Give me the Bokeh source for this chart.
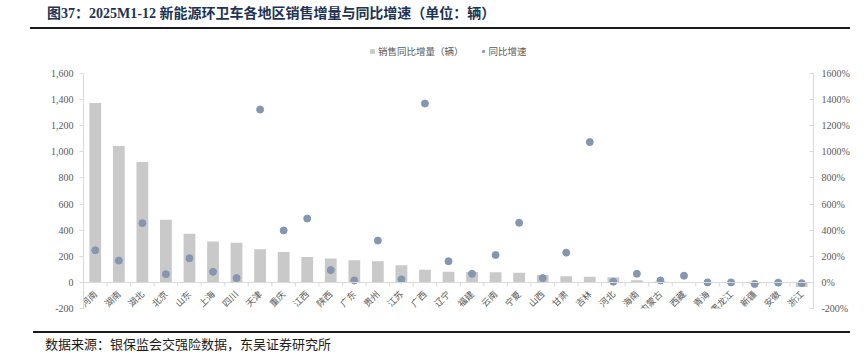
import math
from bokeh.plotting import figure
from bokeh.layouts import column
from bokeh.models import (ColumnDataSource, Range1d, LinearAxis, NumeralTickFormatter,
                          PrintfTickFormatter, FixedTicker, Legend, LegendItem, Div,
                          FactorRange)
from bokeh.transform import dodge
from bokeh.embed import file_html
from bokeh.resources import INLINE

categories = ["河南", "湖南", "湖北", "北京", "山东", "上海", "四川", "天津", "重庆", "江西",
              "陕西", "广东", "贵州", "江苏", "广西", "辽宁", "福建", "云南", "宁夏", "山西",
              "甘肃", "吉林", "河北", "海南", "内蒙古", "西藏", "青海", "黑龙江", "新疆", "安徽", "浙江"]
increase = [1374, 1045, 923, 479, 373, 314, 304, 253, 233, 195,
            183, 170, 162, 132, 96, 81, 80, 78, 73, 56,
            48, 43, 40, 17, 6, 3, 2, 1, -10, -6, -35]
growth = [246, 167, 454, 63, 185, 81, 33, 1324, 398, 489,
          94, 15, 320, 23, 1370, 162, 66, 210, 457, 33,
          228, 1075, 5, 66, 15, 51, 0, 0, -12, -2, -6]
left_ticks = [-200, 0, 200, 400, 600, 800, 1000, 1200, 1400, 1600]
right_ticks = [-200, 0, 200, 400, 600, 800, 1000, 1200, 1400, 1600]

title_text = "图37：2025M1-12 新能源环卫车各地区销售增量与同比增速（单位：辆）"
source_text = "数据来源：银保监会交强险数据，东吴证券研究所"
legend_labels = ["销售同比增量（辆）", "同比增速"]

BAR = "#c9c9c9"
DOT = "#8496b0"
AXIS = "#d9d9d9"
LABEL = "#595959"
SERIF = "Liberation Serif"
CJK = "Noto Sans CJK SC"

src = ColumnDataSource(dict(cat=categories, inc=increase, gr=growth,
                            zero=[0] * len(categories)))

# frame extends above the top tick so the legend can sit inside it
p = figure(width=867, height=302, x_range=FactorRange(*categories),
           y_range=Range1d(-200, 1853), output_backend="svg", toolbar_location=None,
           min_border_left=83, min_border_right=54, min_border_top=10, min_border_bottom=24)
p.extra_y_ranges = {"pct": Range1d(-200, 1853)}
p.grid.visible = False
p.outline_line_color = None
p.background_fill_color = "white"
p.border_fill_color = "white"

bars = p.vbar(x="cat", top="inc", bottom=0, width=0.5, source=src,
              fill_color=BAR, line_color=None)
dots = p.scatter(x="cat", y="gr", source=src, y_range_name="pct", marker="circle",
                 size=7, fill_color=DOT, line_color=DOT)

# small tick marks between categories, below the zero line
TICK_LEN = 30  # in value units (~4px)
src.data["tick_end"] = [-TICK_LEN] * len(categories)
p.segment(x0=dodge("cat", -0.5, range=p.x_range), y0="zero",
          x1=dodge("cat", -0.5, range=p.x_range), y1="tick_end",
          source=src, line_color=AXIS, line_width=1)

# left axis
ya = p.yaxis[0]
ya.ticker = FixedTicker(ticks=left_ticks)
ya.bounds = (left_ticks[0], left_ticks[-1])
ya.formatter = NumeralTickFormatter(format="0,0")
ya.axis_line_color = AXIS
ya.major_tick_line_color = AXIS
ya.major_tick_out = 4
ya.major_tick_in = 0
ya.minor_tick_line_color = None
ya.major_label_text_font = SERIF
ya.major_label_text_font_size = "10px"
ya.major_label_text_color = LABEL
ya.major_label_standoff = 6

# right axis
ra = LinearAxis(y_range_name="pct", ticker=FixedTicker(ticks=right_ticks),
                formatter=PrintfTickFormatter(format="%d%%"))
ra.bounds = (right_ticks[0], right_ticks[-1])
ra.axis_line_color = AXIS
ra.major_tick_line_color = AXIS
ra.major_tick_out = 0
ra.major_tick_in = 4
ra.minor_tick_line_color = None
ra.major_label_text_font = SERIF
ra.major_label_text_font_size = "10px"
ra.major_label_text_color = LABEL
ra.major_label_standoff = 8
p.add_layout(ra, "right")

# x axis drawn at zero
xa = p.xaxis[0]
xa.fixed_location = 0
xa.axis_line_color = AXIS
xa.major_tick_line_color = None
xa.minor_tick_line_color = None
xa.major_label_orientation = math.pi / 4
xa.major_label_text_font = CJK
xa.major_label_text_font_size = "9px"
xa.major_label_text_color = LABEL
xa.major_label_standoff = 4

legend = Legend(items=[LegendItem(label=legend_labels[0], renderers=[bars]),
                       LegendItem(label=legend_labels[1], renderers=[dots])],
                location=(286, 250), orientation="horizontal",
                glyph_width=6, glyph_height=6, label_height=12, label_standoff=3, spacing=16,
                padding=0, margin=0, border_line_color=None, background_fill_alpha=0,
                label_text_font=CJK, label_text_font_size="9.5px", label_text_color=LABEL)
p.add_layout(legend, "center")

title_div = Div(width=867, height=30, margin=0, text=(
    '<div style="margin-left:30px;width:820px;height:29px;box-sizing:border-box;'
    'border-bottom:2px solid #1a1a1a;padding-left:17px;line-height:27px;white-space:nowrap;'
    "font-family:'Liberation Serif','Noto Sans CJK SC';font-weight:bold;font-size:14px;"
    'color:#203354;">' + title_text + '</div>'))

footer_div = Div(width=867, height=23, margin=0, text=(
    '<div style="margin-top:-1px;margin-left:33px;width:817px;height:23px;box-sizing:border-box;'
    'border-top:2px solid #1a1a1a;padding-left:12px;line-height:21px;white-space:nowrap;'
    "font-family:'Noto Sans CJK SC';font-size:13px;color:#1a1a1a;\">" + source_text + '</div>'))

layout = column(title_div, p, footer_div, spacing=0)

open("out.html", "w").write(file_html(layout, INLINE))
